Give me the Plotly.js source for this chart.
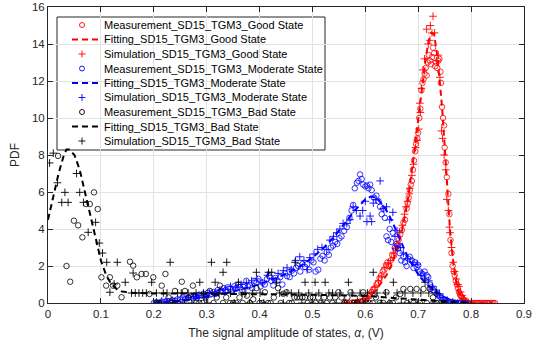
<!DOCTYPE html>
<html>
<head>
<meta charset="utf-8">
<script src="https://cdn.plot.ly/plotly-3.0.1.min.js"></script>
<style>html,body{margin:0;padding:0;background:#fff;}#chart{width:541px;height:347px;}</style>
</head>
<body>
<div id="chart"></div>
<script>
// ---------- Good state ----------
var goodFitX = [0.56,0.57,0.58,0.59,0.60,0.61,0.62,0.63,0.64,0.65,0.66,0.67,0.68,0.69,0.70,0.705,0.71,0.715,0.72,0.725,0.73,0.735,0.74,0.745,0.75,0.755,0.76,0.765,0.77,0.775,0.78,0.785,0.79,0.80,0.81,0.82,0.83,0.84];
var goodFitY = [0,0.02,0.05,0.1,0.2,0.4,0.7,1.1,1.5,2.1,2.9,4.0,5.5,7.6,10.0,11.2,12.4,13.4,14.2,14.6,14.5,13.6,12.2,10.6,8.5,6.2,4.0,2.5,1.4,0.7,0.3,0.12,0.05,0.01,0,0,0,0];
var goodMeasX = [0.560,0.565,0.570,0.575,0.580,0.585,0.590,0.595,0.600,0.603,0.606,0.609,0.612,0.615,0.618,0.621,0.624,0.627,0.630,0.633,0.636,0.639,0.642,0.645,0.648,0.651,0.654,0.657,0.660,0.663,0.666,0.669,0.672,0.675,0.678,0.680,0.682,0.684,0.686,0.688,0.690,0.692,0.694,0.696,0.698,0.700,0.702,0.704,0.706,0.708,0.710,0.712,0.714,0.716,0.718,0.720,0.722,0.724,0.726,0.728,0.730,0.732,0.734,0.736,0.738,0.740,0.742,0.743,0.745,0.747,0.749,0.750,0.752,0.754,0.757,0.759,0.761,0.763,0.765,0.767,0.769,0.771,0.773,0.775,0.777,0.779,0.781,0.783,0.785,0.787,0.790,0.793,0.796,0.800,0.803,0.806,0.809,0.812,0.815,0.818,0.821,0.824,0.827,0.830,0.833,0.836,0.839,0.842,0.845];
var goodMeasY = [0.0,0.0,0.0,0.02,0.03,0.05,0.08,0.12,0.2,0.3,0.35,0.5,0.6,0.75,0.8,1.0,1.1,1.35,1.5,1.7,1.8,2.05,2.2,2.0,2.3,2.6,2.55,2.9,3.1,3.4,3.7,3.95,4.35,4.5,5.1,5.4,5.7,6.1,6.4,6.6,7.2,7.7,8.2,8.6,8.9,9.2,10.0,10.5,11.5,11.9,12.1,12.4,12.7,12.3,13.0,13.4,13.1,12.9,13.3,13.8,13.5,12.8,13.0,12.7,13.1,13.2,12.5,11.9,10.6,10.0,9.6,8.4,7.6,6.8,5.9,4.8,3.4,2.7,2.0,1.7,1.5,1.2,1.0,0.8,0.6,0.45,0.35,0.28,0.2,0.12,0.05,0.02,0,0,0,0,0,0,0,0,0,0,0,0,0,0,0,0,0];
var goodSimX = [0.575,0.585,0.595,0.605,0.612,0.618,0.625,0.631,0.637,0.643,0.648,0.653,0.657,0.660,0.665,0.670,0.674,0.677,0.680,0.683,0.684,0.688,0.691,0.695,0.698,0.701,0.703,0.704,0.706,0.709,0.712,0.716,0.719,0.722,0.723,0.726,0.728,0.731,0.735,0.738,0.741,0.744,0.746,0.749,0.752,0.754,0.757,0.759,0.760,0.763,0.766,0.769,0.772,0.775,0.777,0.780,0.783,0.786,0.790,0.795];
var goodSimY = [0.0,0.05,0.1,0.25,0.55,0.85,1.2,1.45,1.9,2.15,2.3,2.7,2.95,3.2,3.8,4.2,4.8,5.2,5.5,5.9,6.2,6.9,7.5,8.4,8.8,9.4,10.8,10.3,11.6,12.6,13.2,14.8,14.0,14.2,15.0,14.6,15.5,14.6,13.1,13.4,12.2,9.3,8.9,8.0,7.2,5.6,5.0,4.1,3.8,3.0,2.2,1.7,1.3,1.0,0.9,0.6,0.4,0.25,0.1,0.03];

// ---------- Moderate state ----------
var modFitX = [0.20,0.22,0.24,0.26,0.28,0.30,0.32,0.34,0.36,0.38,0.40,0.42,0.44,0.46,0.48,0.50,0.52,0.54,0.56,0.58,0.60,0.61,0.62,0.63,0.64,0.65,0.66,0.67,0.68,0.69,0.70,0.71,0.72,0.73,0.74,0.75,0.76,0.77,0.78,0.79,0.80];
var modFitY = [0.02,0.05,0.1,0.16,0.24,0.33,0.43,0.55,0.68,0.85,1.02,1.22,1.45,1.72,2.05,2.45,2.95,3.55,4.25,5.0,5.6,5.75,5.7,5.4,5.0,4.45,3.8,3.1,2.5,2.0,1.55,1.2,0.9,0.65,0.45,0.3,0.18,0.1,0.05,0.02,0.0];
var modMeasX = [0.200,0.205,0.210,0.215,0.220,0.225,0.230,0.235,0.240,0.245,0.250,0.255,0.260,0.265,0.270,0.274,0.278,0.282,0.286,0.290,0.294,0.298,0.302,0.306,0.309,0.313,0.317,0.321,0.325,0.328,0.332,0.336,0.340,0.344,0.348,0.352,0.356,0.360,0.363,0.367,0.371,0.375,0.378,0.382,0.386,0.390,0.394,0.398,0.402,0.406,0.410,0.414,0.418,0.422,0.426,0.430,0.434,0.439,0.443,0.448,0.452,0.457,0.461,0.465,0.469,0.473,0.477,0.481,0.486,0.490,0.494,0.498,0.502,0.506,0.511,0.515,0.519,0.523,0.527,0.531,0.535,0.539,0.543,0.547,0.551,0.555,0.560,0.565,0.570,0.574,0.577,0.580,0.584,0.587,0.590,0.593,0.596,0.600,0.603,0.606,0.609,0.612,0.616,0.621,0.625,0.628,0.631,0.634,0.637,0.640,0.643,0.646,0.649,0.652,0.656,0.659,0.662,0.665,0.668,0.672,0.675,0.678,0.681,0.684,0.688,0.691,0.694,0.697,0.700,0.703,0.706,0.709,0.712,0.716,0.719,0.722,0.725,0.728,0.731,0.735,0.738,0.741,0.744,0.747,0.750,0.754,0.758,0.762,0.766,0.770,0.775,0.780,0.785,0.790];
var modMeasY = [0.0,0.05,0.0,0.08,0.05,0.12,0.1,0.15,0.12,0.2,0.18,0.3,0.22,0.28,0.35,0.25,0.4,0.3,0.45,0.4,0.5,0.38,0.55,0.45,0.5,0.6,0.5,0.7,0.62,0.65,0.8,0.7,0.85,0.75,0.6,0.9,0.8,1.0,0.85,0.7,0.95,1.2,0.9,0.95,0.8,1.2,1.1,1.3,0.9,1.1,1.0,1.3,1.45,1.2,0.95,1.35,1.2,1.4,1.0,1.6,1.45,1.4,1.75,1.6,1.9,2.0,1.7,2.1,1.95,2.1,1.8,2.3,2.2,1.7,1.8,2.4,2.55,2.3,2.75,2.6,3.0,3.1,3.3,3.2,3.5,3.6,3.9,4.1,4.6,5.0,5.3,6.2,6.5,6.6,6.95,6.7,6.4,6.3,6.35,6.2,6.4,6.1,5.7,5.8,5.5,5.2,4.8,5.1,4.6,3.6,3.4,4.0,3.3,3.8,3.0,3.2,2.95,2.7,2.3,2.5,2.2,2.0,2.4,2.5,2.3,1.9,2.2,1.95,2.05,1.7,1.6,1.55,1.7,1.5,1.4,1.0,0.85,0.7,0.6,0.5,0.4,0.35,0.27,0.2,0.15,0.1,0.08,0.05,0.03,0.02,0,0,0,0];
var modSimX = [0.205,0.215,0.225,0.235,0.245,0.255,0.265,0.275,0.285,0.295,0.305,0.315,0.325,0.335,0.345,0.355,0.365,0.375,0.385,0.395,0.405,0.415,0.425,0.435,0.445,0.452,0.460,0.468,0.476,0.484,0.490,0.495,0.503,0.510,0.518,0.527,0.533,0.540,0.546,0.552,0.558,0.565,0.571,0.577,0.583,0.590,0.595,0.600,0.603,0.609,0.612,0.615,0.620,0.628,0.634,0.640,0.646,0.652,0.656,0.660,0.666,0.672,0.680,0.690,0.698,0.705,0.712,0.720,0.727,0.734,0.740,0.747,0.755,0.765,0.775];
var modSimY = [0.05,0.1,0.05,0.15,0.1,0.2,0.3,0.35,0.4,0.3,0.55,0.5,0.7,0.75,0.9,0.85,1.0,1.1,1.2,1.3,1.1,1.5,1.3,1.6,1.75,1.9,1.8,2.3,2.5,2.3,1.8,2.45,2.65,2.9,3.0,2.9,3.4,3.6,3.8,4.0,4.3,4.3,4.5,5.2,5.0,4.7,5.0,5.5,4.4,4.7,4.4,5.4,5.6,6.6,5.1,5.2,4.5,4.9,3.6,3.9,3.0,2.7,2.4,2.2,2.1,1.5,1.3,1.2,0.9,0.7,0.5,0.3,0.15,0.05,0.0];

// ---------- Bad state ----------
var badFitX = [0,0.01,0.02,0.03,0.035,0.04,0.05,0.06,0.07,0.08,0.09,0.10,0.11,0.12,0.13,0.14,0.16,0.20,0.30,0.40,0.50,0.60,0.65,0.70,0.75,0.80];
var badFitY = [4.5,5.8,7.0,8.0,8.3,8.3,8.0,7.2,6.0,4.7,3.5,2.3,1.5,1.0,0.75,0.62,0.55,0.52,0.5,0.48,0.45,0.38,0.3,0.18,0.08,0.02];
var badMeasX = [0.019,0.035,0.042,0.049,0.057,0.065,0.072,0.079,0.087,0.094,0.101,0.110,0.117,0.123,0.131,0.139,0.155,0.161,0.168,0.177,0.185,0.192,0.199,0.205,0.210,0.215,0.222,0.228,0.234,0.240,0.246,0.253,0.259,0.266,0.274,0.280,0.286,0.292,0.298,0.306,0.313,0.319,0.325,0.331,0.337,0.344,0.350,0.356,0.362,0.368,0.376,0.382,0.388,0.394,0.400,0.405,0.410,0.416,0.421,0.427,0.435,0.440,0.445,0.451,0.456,0.461,0.466,0.471,0.476,0.481,0.486,0.491,0.496,0.501,0.506,0.511,0.516,0.522,0.527,0.533,0.538,0.543,0.549,0.555,0.561,0.566,0.572,0.578,0.584,0.590,0.596,0.602,0.608,0.614,0.620,0.627,0.634,0.640,0.646,0.652,0.658,0.666,0.672,0.679,0.685,0.691,0.697,0.703,0.710,0.716,0.722,0.728,0.735,0.742,0.750];
var badMeasY = [7.95,2.0,1.15,4.45,4.2,3.55,5.35,5.35,5.98,5.08,1.39,0.94,1.39,0.94,0.94,0.31,2.23,2.02,1.39,1.57,1.57,0.49,1.39,0.0,0.0,0.94,1.57,0.3,0.0,0.65,0.0,1.15,0.65,0.3,0.94,0.0,0.0,0.0,0.3,0.65,0.0,0.3,0.94,0.0,0.3,0.0,0.0,0.0,0.3,0.0,0.4,0.0,0.2,0.8,0.0,0.0,0.58,0.0,0.0,0.3,0.8,0.0,0.5,0.58,0.0,0.0,0.3,0.3,0.3,0.3,0.3,0.0,0.3,0.3,0.0,0.3,0.0,0.3,0.0,0.3,0.0,0.3,0.58,0.3,0.0,0.3,0.58,0.0,0.0,0.3,0.58,0.0,0.0,0.0,0.3,0.0,0.0,0.58,0.0,0.0,0.3,0.49,0.76,0.0,0.76,0.0,0.76,0.0,0.76,0.0,0.76,0.3,0.0,0.0,0.0];
var badSimX = [0.003,0.010,0.018,0.026,0.032,0.038,0.054,0.060,0.067,0.076,0.090,0.097,0.103,0.111,0.117,0.125,0.131,0.146,0.158,0.161,0.165,0.172,0.179,0.186,0.196,0.205,0.212,0.218,0.225,0.231,0.238,0.245,0.252,0.258,0.265,0.272,0.280,0.287,0.294,0.302,0.309,0.316,0.323,0.331,0.338,0.345,0.352,0.360,0.367,0.374,0.381,0.387,0.394,0.401,0.408,0.417,0.423,0.432,0.438,0.445,0.452,0.460,0.467,0.474,0.480,0.486,0.493,0.499,0.505,0.512,0.518,0.524,0.531,0.538,0.545,0.552,0.560,0.568,0.575,0.582,0.590,0.597,0.604,0.615,0.622,0.630,0.638,0.645,0.653,0.660,0.668,0.675,0.682,0.690,0.698,0.705,0.713,0.720,0.728,0.735,0.745];
var badSimY = [7.57,8.1,6.5,5.44,5.98,5.44,7.0,5.98,5.44,3.82,4.36,3.24,2.7,2.2,0.58,1.03,2.2,1.12,0.54,1.62,0.54,0.54,0.54,0.54,1.12,0.54,0.0,0.54,0.54,2.2,0.0,0.54,0.54,0.0,0.54,0.0,0.54,1.12,0.54,0.0,2.2,1.12,0.54,1.66,2.2,0.54,0.0,1.12,0.54,0.54,0.0,0.54,1.66,0.54,0.0,1.66,1.66,1.12,0.54,0.0,0.54,0.54,2.2,0.54,0.0,1.12,0.54,0.0,1.12,0.54,0.0,1.12,0.54,0.54,0.0,0.54,0.0,1.12,0.54,0.0,0.54,0.0,0.54,1.66,0.54,0.0,0.54,0.0,1.12,0.54,0.0,0.54,0.0,0.54,0.0,0.54,1.12,0.54,0.0,0.54,0.0];

var legendLabels = [
  "Measurement_SD15_TGM3_Good State",
  "Fitting_SD15_TGM3_Good State",
  "Simulation_SD15_TGM3_Good State",
  "Measurement_SD15_TGM3_Moderate State",
  "Fitting_SD15_TGM3_Moderate State",
  "Simulation_SD15_TGM3_Moderate State",
  "Measurement_SD15_TGM3_Bad State",
  "Fitting_SD15_TGM3_Bad State",
  "Simulation_SD15_TGM3_Bad State"
];
var xTicks = [0,0.1,0.2,0.3,0.4,0.5,0.6,0.7,0.8,0.9];
var yTicks = [0,2,4,6,8,10,12,14,16];

// ---------- styles ----------
var RED = '#ff0000', BLUE = '#0000ff', BLACK = '#000000';
var FONT = 'Liberation Sans, Arial, Helvetica, sans-serif';
var MSIZE = 5.5;
function meas(x, y, c) {
  return {x: x, y: y, type: 'scatter', mode: 'markers', showlegend: false,
    marker: {symbol: 'circle-open', size: MSIZE, color: c, line: {width: 0.8, color: c}}};
}
function fit(x, y, c) {
  return {x: x, y: y, type: 'scatter', mode: 'lines', showlegend: false,
    line: {color: c, width: 2, dash: '6px,4px'}};
}
function sim(x, y, c) {
  return {x: x, y: y, type: 'scatter', mode: 'markers', showlegend: false,
    marker: {symbol: 'cross-thin-open', size: MSIZE, color: c, line: {width: 0.9, color: c}}};
}

var traces = [
  meas(goodMeasX, goodMeasY, RED), fit(goodFitX, goodFitY, RED), sim(goodSimX, goodSimY, RED),
  meas(modMeasX, modMeasY, BLUE), fit(modFitX, modFitY, BLUE), sim(modSimX, modSimY, BLUE),
  meas(badMeasX, badMeasY, BLACK), fit(badFitX, badFitY, BLACK), sim(badSimX, badSimY, BLACK)
];

// ---------- custom legend (pixel layout of the legend box) ----------
var W = 541, H = 347;
var M = {l: 48, r: 17, t: 7, b: 44};
var plotW = W - M.l - M.r, plotH = H - M.t - M.b;
var LEG = {left: 57, right: 325, top: 17, bottom: 150, row0: 25, rowH: 14.5, symX: 82, lineX0: 72, lineX1: 98, textX: 102};
function px2paperX(p) { return (p - M.l) / plotW; }
function px2paperY(p) { return (H - M.b - p) / plotH; }

var kinds = ['m', 'f', 's'];
var colors = [RED, RED, RED, BLUE, BLUE, BLUE, BLACK, BLACK, BLACK];
var annotations = [];
for (var i = 0; i < legendLabels.length; i++) {
  var yy = LEG.row0 + LEG.rowH * i;
  var k = kinds[i % 3];
  var c = colors[i];
  var t;
  if (k === 'f') {
    t = {x: [px2paperX(LEG.lineX0), px2paperX(LEG.lineX1)], y: [px2paperY(yy), px2paperY(yy)], type: 'scatter', mode: 'lines',
      line: {color: c, width: 2, dash: '6px,4px'}};
  } else {
    t = {x: [px2paperX(LEG.symX)], y: [px2paperY(yy)], type: 'scatter', mode: 'markers',
      marker: {symbol: k === 'm' ? 'circle-open' : 'cross-thin-open', size: 5, color: c, line: {width: 0.9, color: c}}};
  }
  t.xaxis = 'x2'; t.yaxis = 'y2'; t.showlegend = false; t.hoverinfo = 'skip';
  traces.push(t);
  annotations.push({xref: 'paper', yref: 'paper', x: px2paperX(LEG.textX), y: px2paperY(yy),
    xanchor: 'left', yanchor: 'middle', showarrow: false, text: legendLabels[i],
    font: {family: FONT, size: 11, color: '#000'}});
}
annotations.push({xref: 'paper', yref: 'paper', x: px2paperX(15), y: 0.5, xanchor: 'center', yanchor: 'middle',
  showarrow: false, text: 'PDF', textangle: -90, font: {family: FONT, size: 12, color: '#262626'}});

var axisCommon = {
  showline: true, linecolor: '#262626', linewidth: 1, mirror: 'ticks',
  ticks: 'inside', ticklen: 5, tickwidth: 1, tickcolor: '#262626',
  showgrid: true, gridcolor: '#e3e3e3', gridwidth: 1, zeroline: false,
  tickfont: {family: FONT, size: 11.5, color: '#262626'}, fixedrange: true
};

var layout = {
  width: W, height: H, margin: M, paper_bgcolor: '#fff', plot_bgcolor: '#fff',
  showlegend: false, hovermode: false,
  xaxis: Object.assign({}, axisCommon, {range: [0, 0.9], tickvals: xTicks, ticktext: xTicks.map(String),
    title: {text: 'The signal amplitude of states, <i>α</i>, (V)', font: {family: FONT, size: 12, color: '#262626'}, standoff: 9}}),
  yaxis: Object.assign({}, axisCommon, {range: [0, 16], tickvals: yTicks, ticktext: yTicks.map(String)}),
  xaxis2: {overlaying: 'x', anchor: 'y2', range: [0, 1], visible: false, fixedrange: true},
  yaxis2: {overlaying: 'y', anchor: 'x2', range: [0, 1], visible: false, fixedrange: true},
  shapes: [{type: 'rect', xref: 'paper', yref: 'paper', layer: 'between',
    x0: px2paperX(LEG.left), x1: px2paperX(LEG.right), y0: px2paperY(LEG.bottom), y1: px2paperY(LEG.top),
    fillcolor: '#ffffff', line: {color: '#262626', width: 1}}],
  annotations: annotations
};

Plotly.newPlot('chart', traces, layout, {displayModeBar: false, staticPlot: true});
</script>
</body>
</html>
